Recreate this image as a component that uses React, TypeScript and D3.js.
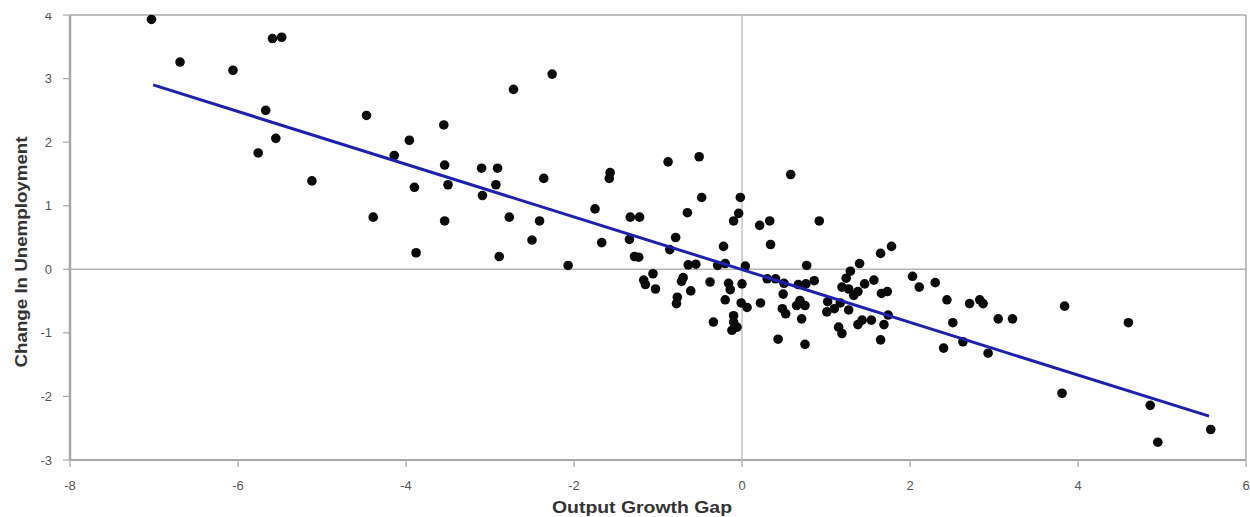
import React from 'react';
import * as d3 from 'd3';

// output growth gap (x) and change in unemployment (y)
const gapValues = [
  -7.03, -6.69, -6.06, -5.59, -5.48, -5.67, -5.55, -5.76, -5.12, -4.47,
  -4.39, -4.14, -3.96, -3.90, -3.88, -3.55, -3.54, -3.50, -3.54, -3.10,
  -2.91, -2.93, -3.09, -2.72, -2.26, -2.77, -2.41, -2.36, -2.50, -2.89,
  -2.07, -1.75, -1.67, -1.57, -1.58, -1.33, -1.22, -1.34, -1.28, -1.23,
  -0.88, -0.51, -0.48, -0.65, -0.79, -0.86, -0.22, -0.02, -0.04, -0.10,
  0.21, 0.33, 0.34, 0.58, 0.92, -0.64, -0.55, -0.29, -0.20, 0.04,
  0.77, -1.06, -1.17, -1.15, -1.03, -0.70, -0.72, -0.61, -0.38, -0.16,
  -0.14, 0.00, -0.77, -0.78, -0.20, -0.01, 0.06, 0.22, -0.34, -0.10,
  -0.10, -0.06, -0.12, 0.43, 0.75, 0.30, 0.40, 0.50, 0.49, 0.48,
  0.52, 0.67, 0.76, 0.86, 0.69, 0.75, 0.65, 0.71, 1.01, 1.10,
  1.17, 1.02, 1.27, 1.29, 1.24, 1.19, 1.27, 1.33, 1.38, 1.46,
  1.57, 1.66, 1.73, 1.40, 1.65, 1.78, 1.15, 1.19, 1.38, 1.43,
  1.54, 1.69, 1.74, 1.65, 2.03, 2.11, 2.30, 2.44, 2.71, 2.83,
  2.87, 2.51, 3.05, 3.22, 2.40, 2.63, 2.93, 3.84, 4.60, 3.81,
  4.86, 4.95, 5.58,
];

const unempValues = [
  3.93, 3.26, 3.13, 3.63, 3.65, 2.50, 2.06, 1.83, 1.39, 2.42,
  0.82, 1.79, 2.03, 1.29, 0.26, 2.27, 1.64, 1.33, 0.76, 1.59,
  1.59, 1.33, 1.16, 2.83, 3.07, 0.82, 0.76, 1.43, 0.46, 0.20,
  0.06, 0.95, 0.42, 1.52, 1.43, 0.82, 0.82, 0.47, 0.20, 0.19,
  1.69, 1.77, 1.13, 0.89, 0.50, 0.31, 0.36, 1.13, 0.88, 0.76,
  0.69, 0.76, 0.39, 1.49, 0.76, 0.07, 0.08, 0.06, 0.09, 0.05,
  0.06, -0.07, -0.17, -0.24, -0.31, -0.13, -0.19, -0.34, -0.20, -0.22,
  -0.32, -0.23, -0.44, -0.54, -0.48, -0.53, -0.60, -0.53, -0.83, -0.73,
  -0.83, -0.91, -0.96, -1.10, -1.18, -0.15, -0.15, -0.22, -0.39, -0.62,
  -0.70, -0.24, -0.23, -0.18, -0.49, -0.57, -0.57, -0.78, -0.67, -0.62,
  -0.53, -0.51, -0.64, -0.03, -0.14, -0.28, -0.31, -0.41, -0.35, -0.23,
  -0.17, -0.38, -0.35, 0.09, 0.25, 0.36, -0.91, -1.01, -0.87, -0.80,
  -0.80, -0.87, -0.72, -1.11, -0.11, -0.28, -0.21, -0.48, -0.54, -0.48,
  -0.54, -0.84, -0.78, -0.78, -1.24, -1.14, -1.32, -0.58, -0.84, -1.95,
  -2.14, -2.72, -2.52,
];

// ends of the fitted line
const fitX = [-7.01, 5.56];
const fitY = [2.9, -2.31];

const xTicks = [-8, -6, -4, -2, 0, 2, 4, 6];
const yTicks = [-3, -2, -1, 0, 1, 2, 3, 4];

const W = 1250;
const H = 517;
const frameColor = '#a8a8a8';
const tickText = '#555';

export default function App() {
  const x = d3.scaleLinear().domain([-8, 6]).range([70, 1246]);
  const y = d3.scaleLinear().domain([-3, 4]).range([460, 15]);

  const points = gapValues.map((g, i) => ({ g, u: unempValues[i] }));
  const fitLine = d3.line<number>()
    .x((d) => x(d))
    .y((_, i) => y(fitY[i]));

  return (
    <svg width={W} height={H} style={{ position: 'absolute', left: 0, top: 0, background: '#fff' }}
      fontFamily="'Liberation Sans', Arial, sans-serif">
      <defs>
        {/* the source image is cropped just above the plot frame */}
        <clipPath id="crop">
          <rect x={0} y={13} width={W} height={H - 13} />
        </clipPath>
      </defs>

      {/* frame */}
      <line x1={x(-8)} x2={x(6)} y1={y(4)} y2={y(4)} stroke={frameColor} strokeWidth={1.5} />
      <line x1={x(6)} x2={x(6)} y1={y(4)} y2={y(-3)} stroke={frameColor} strokeWidth={1.5} />
      <line x1={x(-8)} x2={x(-8)} y1={y(4)} y2={y(-3)} stroke={frameColor} strokeWidth={2.5} />
      <line x1={x(-8)} x2={x(6)} y1={y(-3)} y2={y(-3)} stroke={frameColor} strokeWidth={2} />

      {/* zero lines */}
      <line x1={x(0)} x2={x(0)} y1={y(4)} y2={y(-3)} stroke="#c4c4c4" strokeWidth={1.5} />
      <line x1={x(-8)} x2={x(6)} y1={y(0)} y2={y(0)} stroke="#b4b4b4" strokeWidth={1.5} />

      {/* y ticks */}
      <g clipPath="url(#crop)">
        {yTicks.map((t) => (
          <g key={'y' + t}>
            <line x1={x(-8) - 7} x2={x(-8)} y1={y(t)} y2={y(t)} stroke={frameColor} strokeWidth={1.2} />
            <text x={52} y={y(t)} dy="0.35em" textAnchor="end" fontSize={13} fill={tickText}>
              {t}
            </text>
          </g>
        ))}
      </g>

      {/* x ticks */}
      {xTicks.map((t) => (
        <g key={'x' + t}>
          <line x1={x(t)} x2={x(t)} y1={y(-3)} y2={y(-3) + 7} stroke={frameColor} strokeWidth={1.2} />
          <text x={x(t)} y={490} textAnchor="middle" fontSize={13} fill={tickText}>
            {t}
          </text>
        </g>
      ))}

      {/* points */}
      {points.map((p, i) => (
        <circle key={i} cx={x(p.g)} cy={y(p.u)} r={4.8} fill="#0a0a0a" />
      ))}

      {/* fitted line */}
      <path d={fitLine(fitX) || ''} fill="none" stroke="#1f1fb0" strokeWidth={3} />

      {/* axis titles */}
      <text x={642} y={513} textAnchor="middle" fontSize={16} fontWeight="bold" fill="#333"
        textLength={180} lengthAdjust="spacingAndGlyphs">
        Output Growth Gap
      </text>
      <text transform="translate(27,252) rotate(-90)" textAnchor="middle" fontSize={16} fontWeight="bold"
        fill="#333" textLength={231} lengthAdjust="spacingAndGlyphs">
        Change In Unemployment
      </text>
    </svg>
  );
}
